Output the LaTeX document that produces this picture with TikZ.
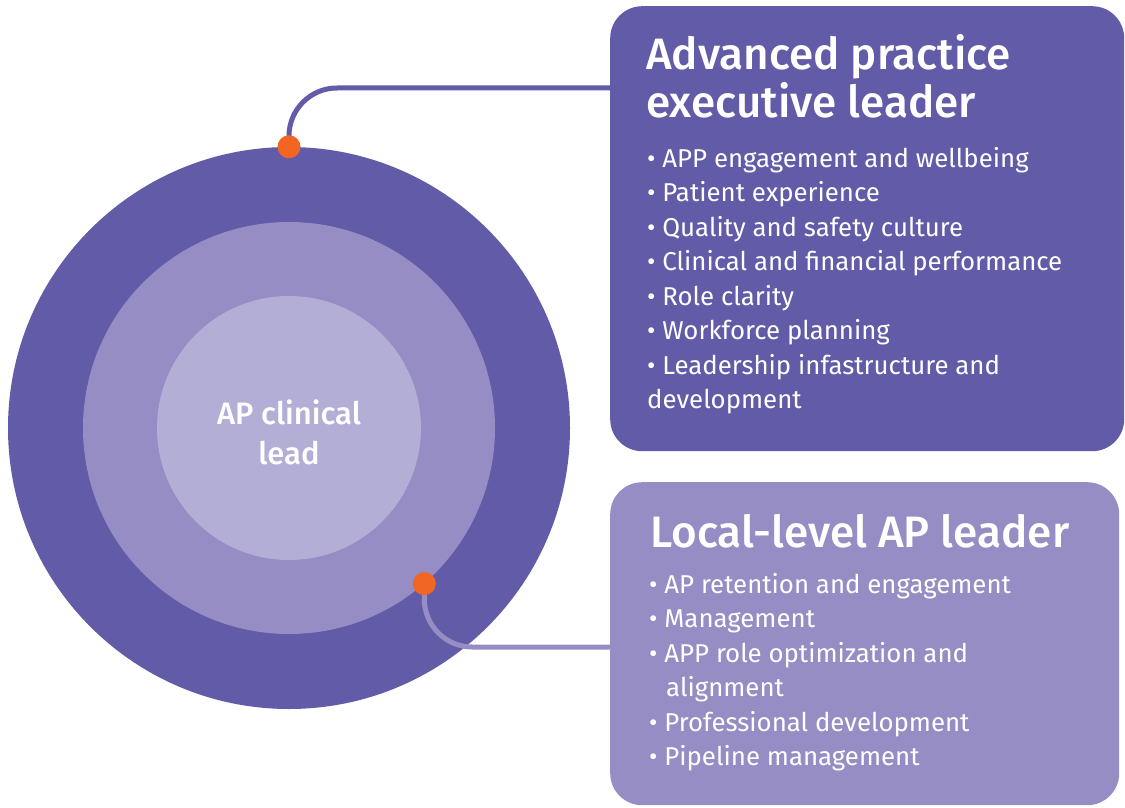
\documentclass[tikz,border=0pt]{standalone}
\usepackage{fontspec}
\setmainfont{Fira Sans}
\newfontfamily\headfont{Fira Sans Medium}
\definecolor{apdark}{RGB}{98,91,168}
\definecolor{apmid}{RGB}{150,141,196}
\definecolor{aplight}{RGB}{179,174,214}
\definecolor{apdot}{RGB}{242,101,34}

\begin{document}
\begin{tikzpicture}[x=1pt,y=-1pt,
  ring/.style={circle,inner sep=0pt,minimum size=#1},
  panel/.style={rectangle,rounded corners=32pt,anchor=north west,inner sep=0pt},
  heading/.style={anchor=north west,text=white,inner sep=0pt,align=left,font=\headfont\fontsize{44}{48}\selectfont},
  items/.style={anchor=north west,text=white,inner sep=0pt,align=left,font=\fontsize{25.8}{34.5}\selectfont},
  link/.style={line width=5pt,rounded corners=48pt},
  dot/.style={circle,fill=apdot,inner sep=0pt,minimum size=23pt}]
\useasboundingbox (0,0) rectangle (1125,808);

\node (outer) at (289,428) [ring=562pt, fill=apdark] {};
\node (middle) at (289,428) [ring=412pt, fill=apmid] {};
\node (inner) at (289,428) [ring=264pt, fill=aplight] {};
\node (lead) at (289,432) [text=white,align=center,font=\headfont\fontsize{31}{40}\selectfont] {AP clinical\\lead};

\node (exec) at (610,6) [panel, fill=apdark, minimum width=514pt, minimum height=445pt] {};
\node (local) at (610,482) [panel, fill=apmid, minimum width=509pt, minimum height=323pt] {};

\draw[link,apdark] (outer.north) |- ([yshift=-82pt]exec.north west);
\draw[link,apmid] (middle.-49) |- ([yshift=-165pt]local.north west);
\node (dotexec) at (outer.north) [dot] {};
\node (dotlocal) at (middle.-49) [dot] {};

\node (exechead) at (646,34) [heading] {Advanced practice\\executive leader};
\node (execlist) at (647,147) [items] {\textbullet\ APP engagement and wellbeing\\
  \textbullet\ Patient experience\\
  \textbullet\ Quality and safety culture\\
  \textbullet\ Clinical and financial performance\\
  \textbullet\ Role clarity\\
  \textbullet\ Workforce planning\\
  \textbullet\ Leadership infastructure and\\
  development};

\node (localhead) at (650,514) [heading] {Local-level AP leader};
\node (locallist) at (649,573) [items] {\textbullet\ AP retention and engagement\\
  \textbullet\ Management\\
  \textbullet\ APP role optimization and\\
  \hspace*{17pt}alignment\\
  \textbullet\ Professional development\\
  \textbullet\ Pipeline management};
\end{tikzpicture}
\end{document}
